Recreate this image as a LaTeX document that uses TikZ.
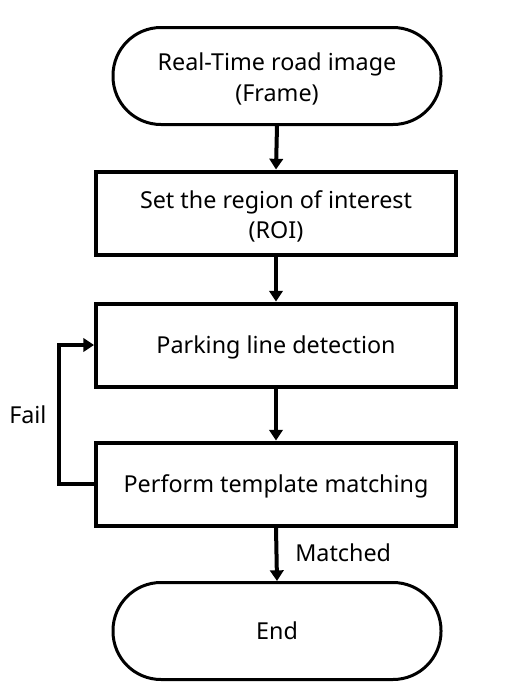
\documentclass[tikz,border=0pt]{standalone}
\usepackage{fontspec}
\setmainfont{Noto Sans}
\usetikzlibrary{arrows.meta}
\tikzset{
  procbox/.style={draw, line width=3pt, minimum width=270pt, minimum height=62.25pt, align=center, inner sep=0pt},
  termbox/.style={draw, line width=2.25pt, rounded corners=36pt, minimum width=246pt, minimum height=72.75pt, align=center, inner sep=0pt},
  flow/.style={line width=3pt, -{Triangle[width=10pt,length=8pt]}},
  lbl/.style={font=\fontsize{17.5pt}{23pt}\selectfont},
}
\begin{document}
\begin{tikzpicture}[x=0.75pt,y=-0.75pt]
\useasboundingbox (0,0) rectangle (509,697);
\begin{scope}[every node/.append style={lbl}]
\node[termbox] (start) at (277,76) {\rule{0pt}{18pt}Real-Time road image\\(Frame)};
\node[procbox] (roi) at (276,213) {\rule{0pt}{18.5pt}Set the region of interest\\(ROI)};
\node[procbox] (park) at (276,345) {\rule{0pt}{16.3pt}Parking line detection};
\node[procbox] (tmpl) at (276,484) {\rule{0pt}{16.3pt}Perform template matching};
\node[termbox] (end) at (277,631) {End};
\coordinate (fb1) at (59,484);
\coordinate (fb2) at (59,345);
\node[anchor=west, inner sep=0pt] (matched) at (295,553) {Matched};
\node[anchor=west, inner sep=0pt] (fail) at (9,415) {Fail};
\end{scope}
\draw[flow] (start.south) -- (roi.north);
\draw[flow] (roi.south) -- (park.north);
\draw[flow] (park.south) -- (tmpl.north);
\draw[flow] (tmpl.south) -- (end.north);
\draw[flow] (tmpl.west) -- (fb1) -- (fb2) -- (park.west);
\end{tikzpicture}
\end{document}
